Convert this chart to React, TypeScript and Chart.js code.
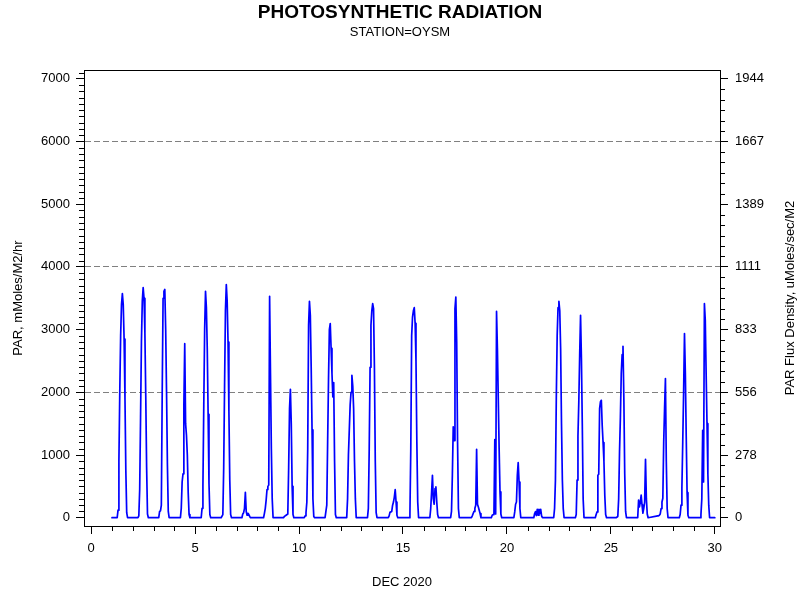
import React, { useEffect, useRef } from 'react';
import { Chart, registerables } from 'chart.js';

Chart.register(...registerables);

// ---- data ----
// Days of December 2020 that carry a daylight curve
const DAYS = [1, 2, 3, 4, 5, 6, 7, 8, 9, 10, 11, 12, 13, 14, 15, 16, 17, 18, 19, 20, 21, 22, 23, 24, 25, 26, 27, 28, 29];
// Hours of the day for the values in each row below (night values are 0)
const HOURS = [6, 7, 8, 9, 10, 11, 12, 13, 14, 15, 16, 17, 18, 19];
// PAR, mMoles/M2/hr — one row per day, one value per hour above
const PAR_BY_DAY = [
  [0, 120, 900, 2000, 2900, 3400, 3573, 3400, 2850, 1900, 750, 80, 0, 0], // 1
  [0, 30, 450, 1600, 2800, 3450, 3670, 3500, 2950, 1950, 800, 60, 0, 0], // 2
  [0, 100, 110, 200, 2000, 3500, 3610, 3640, 3000, 2000, 850, 100, 0, 0], // 3
  [0, 0, 150, 570, 700, 1800, 2776, 1500, 1315, 1000, 400, 50, 0, 0], // 4
  [0, 0, 150, 500, 1800, 3000, 3610, 3350, 2700, 1650, 550, 50, 0, 0], // 5
  [0, 0, 50, 800, 2100, 3300, 3717, 3450, 2800, 1700, 600, 50, 0, 0], // 6
  [0, 60, 80, 150, 406, 100, 40, 70, 50, 20, 0, 0, 0, 0], // 7
  [0, 0, 70, 150, 280, 450, 500, 520, 3530, 2300, 1100, 300, 0, 0], // 8
  [0, 20, 30, 40, 40, 60, 800, 1740, 2048, 1500, 500, 50, 0, 0], // 9
  [0, 30, 80, 250, 1100, 3070, 3450, 3230, 2400, 1400, 300, 20, 0, 0], // 10
  [0, 0, 200, 1210, 2200, 3000, 3095, 2700, 2300, 1925, 2155, 900, 50, 0], // 11
  [0, 0, 300, 1000, 1400, 1800, 2000, 2271, 2100, 1740, 900, 300, 0, 0], // 12
  [0, 0, 150, 1100, 2400, 3070, 3300, 3414, 3335, 2400, 900, 80, 0, 0], // 13
  [0, 0, 30, 90, 95, 100, 200, 250, 330, 450, 250, 40, 0, 0], // 14
  [0, 0, 60, 1100, 2900, 3200, 3300, 3350, 3100, 2500, 1200, 250, 0, 0], // 15
  [0, 0, 146, 400, 677, 300, 215, 465, 491, 250, 50, 0, 0, 0], // 16
  [0, 0, 100, 677, 1450, 1230, 3330, 3520, 2800, 1210, 146, 0, 0, 0], // 17
  [0, 0, 30, 67, 100, 150, 200, 1092, 215, 172, 120, 67, 0, 0], // 18
  [0, 40, 50, 67, 1246, 60, 3290, 2700, 1900, 1100, 411, 60, 0, 0], // 19
  [0, 0, 0, 93, 215, 250, 677, 880, 570, 146, 0, 0, 0, 0], // 20
  [0, 0, 67, 99, 35, 135, 40, 135, 67, 135, 30, 0, 0, 0], // 21
  [0, 150, 600, 1900, 2900, 3350, 3450, 3300, 2700, 1500, 600, 150, 0, 0], // 22
  [0, 0, 50, 600, 1300, 1857, 2600, 3228, 2540, 1500, 300, 0, 0, 0], // 23
  [0, 50, 93, 677, 693, 1740, 1850, 1873, 1470, 1200, 900, 350, 50, 0], // 24
  [0, 0, 20, 300, 1050, 1600, 2300, 2600, 2734, 1900, 700, 100, 0, 0], // 25
  [0, 0, 280, 172, 250, 359, 200, 72, 150, 250, 932, 300, 60, 0], // 26
  [30, 30, 40, 60, 146, 250, 311, 1200, 1740, 2219, 900, 146, 0, 0], // 27
  [0, 0, 50, 200, 470, 1210, 2005, 2936, 2300, 1300, 400, 40, 0, 0], // 28
  [0, 0, 50, 300, 1395, 571, 3414, 3148, 2300, 1500, 700, 200, 0, 0], // 29
];
const SERIES_START_DAY = 1;
const SERIES_END_DAY = 30;

// ---- axes ----
const X_TICKS = [0, 5, 10, 15, 20, 25, 30];
const Y_TICKS = [0, 1000, 2000, 3000, 4000, 5000, 6000, 7000];
const RIGHT_TICK_LABELS = ['0', '278', '556', '833', '1111', '1389', '1667', '1944'];
const GRID_VALUES = [2000, 4000, 6000];

const TITLE = 'PHOTOSYNTHETIC RADIATION';
const SUBTITLE = 'STATION=OYSM';
const X_TITLE = 'DEC 2020';
const Y_TITLE = 'PAR, mMoles/M2/hr';
const Y2_TITLE = 'PAR Flux Density, uMoles/sec/M2';

const FONT = 'Liberation Sans, Arial, sans-serif';

const framePlugin = {
  id: 'frameAndMinor',
  afterDraw(chart: any) {
    const { ctx, chartArea, scales } = chart;
    const { left, right, top, bottom } = chartArea;
    ctx.save();
    ctx.strokeStyle = '#000';
    ctx.lineWidth = 1;
    ctx.strokeRect(Math.round(left) + 0.5, Math.round(top) + 0.5, Math.round(right - left), Math.round(bottom - top));
    ctx.beginPath();
    // x minor ticks: every day
    for (let d = 0; d <= 30; d++) {
      if (d % 5 === 0) continue;
      const px = Math.round(scales.x.getPixelForValue(d)) + 0.5;
      ctx.moveTo(px, Math.round(bottom));
      ctx.lineTo(px, Math.round(bottom) + 5);
    }
    // left minor ticks: every 100
    for (let v = 0; v <= 7100; v += 100) {
      if (v % 1000 === 0) continue;
      const py = Math.round(scales.y.getPixelForValue(v)) + 0.5;
      if (py < top) continue;
      ctx.moveTo(Math.round(left), py);
      ctx.lineTo(Math.round(left) - 5, py);
    }
    // right minor ticks
    for (let k = 0; k <= 43; k++) {
      const v = (k * 1000) / 6;
      if (k % 6 === 0) continue;
      const py = Math.round(scales.y2.getPixelForValue(v)) + 0.5;
      if (py < top) continue;
      ctx.moveTo(Math.round(right), py);
      ctx.lineTo(Math.round(right) + 5, py);
    }
    ctx.stroke();
    // right axis title, reading bottom to top
    ctx.fillStyle = '#000';
    ctx.font = `13px ${FONT}`;
    ctx.textAlign = 'center';
    ctx.textBaseline = 'middle';
    ctx.translate(790, (top + bottom) / 2);
    ctx.rotate(-Math.PI / 2);
    ctx.fillText(Y2_TITLE, 0, 0);
    ctx.restore();
  },
};

export default function App() {
  const ref = useRef<HTMLCanvasElement | null>(null);
  useEffect(() => {
    document.body.style.margin = '0';
    const points: { x: number; y: number }[] = [{ x: SERIES_START_DAY, y: 0 }];
    DAYS.forEach((d, i) => {
      HOURS.forEach((h, j) => {
        points.push({ x: d + h / 24, y: PAR_BY_DAY[i][j] });
      });
    });
    points.push({ x: SERIES_END_DAY, y: 0 });

    const tickFont = { family: FONT, size: 13 };
    const chart = new Chart(ref.current as HTMLCanvasElement, {
      type: 'line',
      data: {
        datasets: [
          {
            label: 'PAR',
            data: points,
            borderColor: '#0000ff',
            borderWidth: 1.7,
            borderJoinStyle: 'round',
            borderCapStyle: 'round',
            pointRadius: 0,
            tension: 0,
            fill: false,
          },
        ],
      },
      options: {
        responsive: false,
        animation: false,
        devicePixelRatio: 1,
        layout: { padding: 0 },
        plugins: {
          legend: { display: false },
          tooltip: { enabled: false },
          title: {
            display: true,
            text: TITLE,
            color: '#000',
            font: { family: FONT, size: 19, weight: 'bold' },
            padding: { top: 1, bottom: 0 },
          },
          subtitle: {
            display: true,
            text: SUBTITLE,
            color: '#000',
            font: { family: FONT, size: 13 },
            padding: { top: 0.5, bottom: 30.1 },
          },
        },
        scales: {
          x: {
            type: 'linear',
            position: 'bottom',
            min: -0.346,
            max: 30.25,
            afterBuildTicks: (s: any) => {
              s.ticks = X_TICKS.map((v) => ({ value: v }));
            },
            afterFit: (s: any) => {
              s.height = 74;
            },
            ticks: { color: '#000', font: tickFont, padding: 7, maxRotation: 0, autoSkip: false, callback: (v: any) => String(v) },
            grid: { drawOnChartArea: false, tickLength: 8, tickColor: '#000', color: '#000' },
            border: { color: '#000' },
            title: { display: true, text: X_TITLE, color: '#000', font: { family: FONT, size: 13 }, padding: { top: 0, bottom: 10 } },
          },
          y: {
            type: 'linear',
            position: 'left',
            min: -132,
            max: 7140,
            afterBuildTicks: (s: any) => {
              s.ticks = Y_TICKS.map((v) => ({ value: v }));
            },
            afterFit: (s: any) => {
              s.width = 84;
            },
            ticks: { color: '#000', font: tickFont, padding: 6, callback: (v: any) => String(v) },
            grid: {
              color: (c: any) => (c.tick && GRID_VALUES.includes(c.tick.value) ? '#808080' : 'rgba(0,0,0,0)'),
              tickColor: '#000',
              tickLength: 8,
            },
            border: { color: '#000', dash: [6, 3] },
            title: { display: true, text: Y_TITLE, color: '#000', font: { family: FONT, size: 13 }, padding: { top: 11, bottom: 0 } },
          },
          y2: {
            type: 'linear',
            position: 'right',
            min: -132,
            max: 7140,
            afterBuildTicks: (s: any) => {
              s.ticks = Y_TICKS.map((v) => ({ value: v }));
            },
            afterFit: (s: any) => {
              s.width = 80;
            },
            ticks: {
              color: '#000',
              font: tickFont,
              padding: 7,
              callback: (_v: any, i: number) => RIGHT_TICK_LABELS[i],
            },
            grid: { drawOnChartArea: false, tickColor: '#000', tickLength: 8, color: '#000' },
            border: { color: '#000' },
          },
        },
      },
      plugins: [framePlugin],
    } as any);
    return () => chart.destroy();
  }, []);
  return <canvas ref={ref} width={800} height={600} style={{ display: 'block', width: 800, height: 600 }} />;
}
